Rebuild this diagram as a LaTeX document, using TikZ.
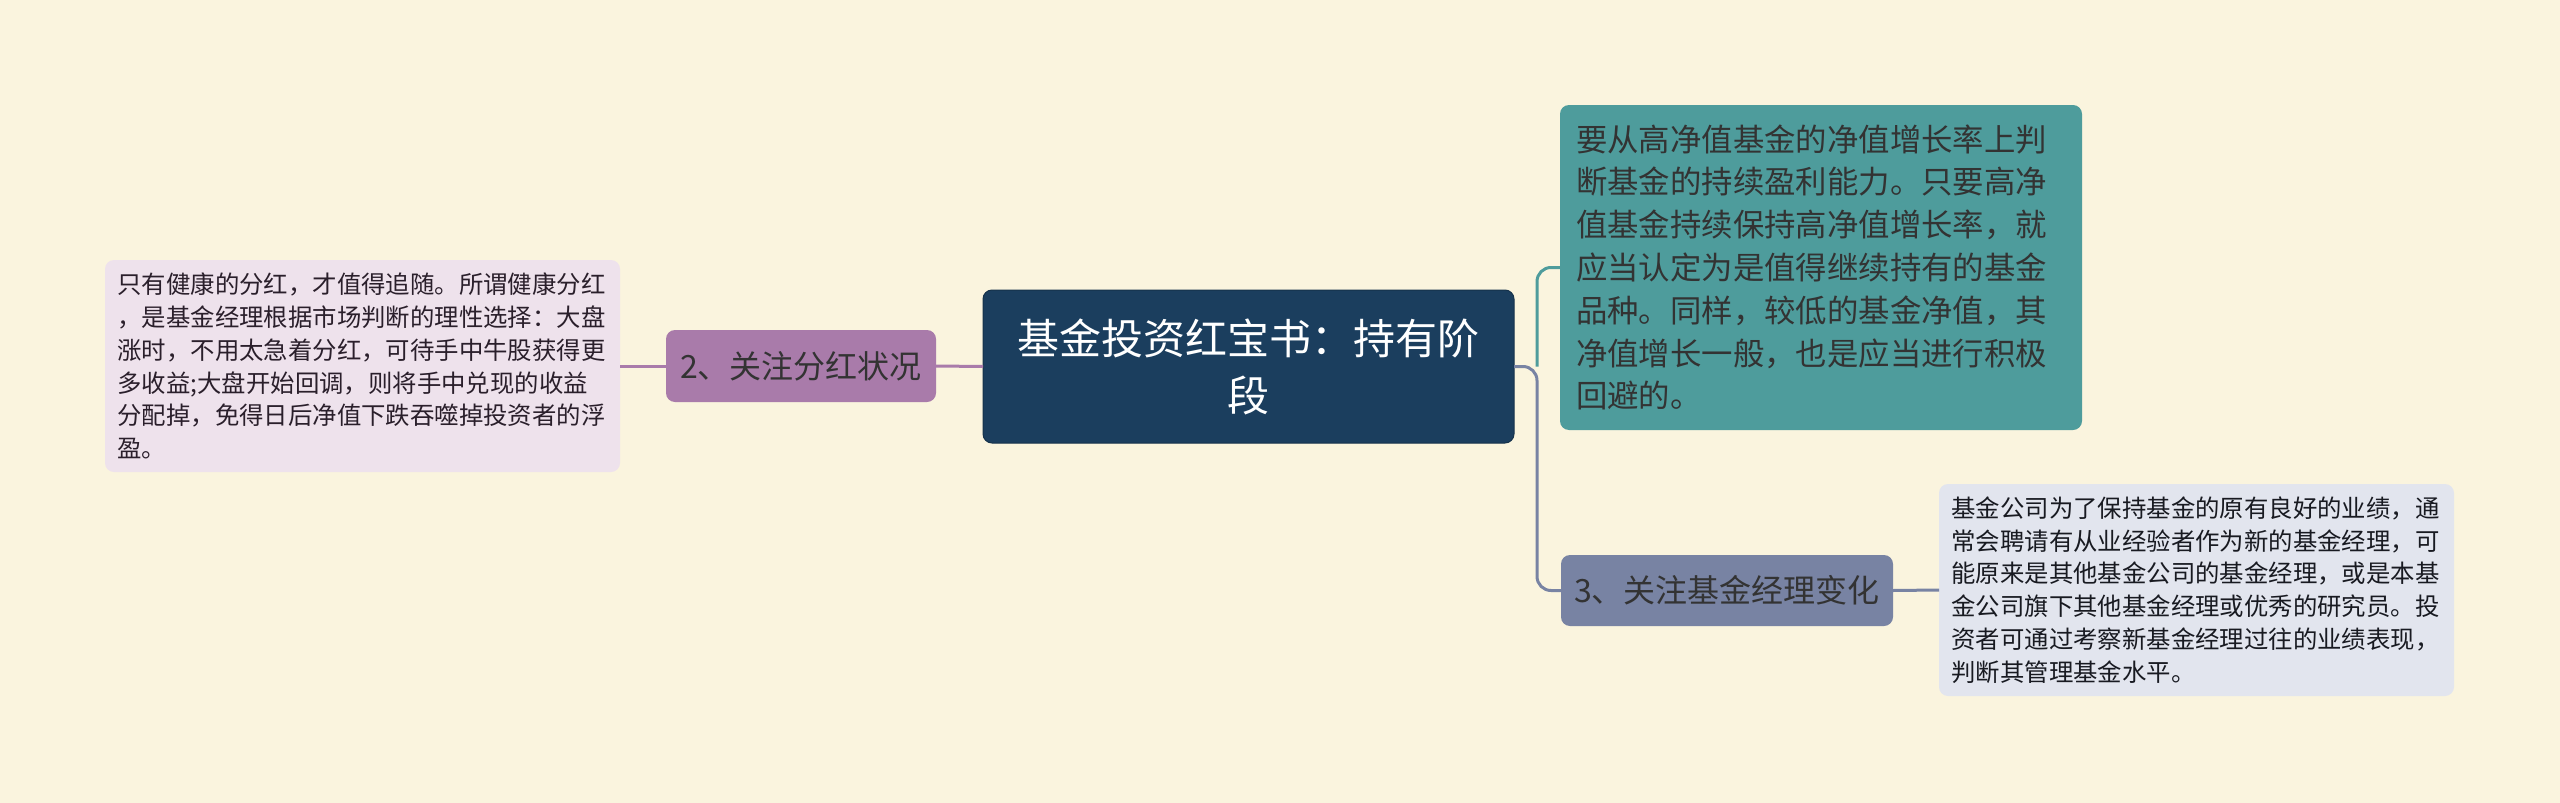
\documentclass[tikz,border=0pt]{standalone}
\usepackage{fontspec}
\setmainfont{Noto Sans CJK SC}
\definecolor{bg}{HTML}{FAF4DE}
\definecolor{rootc}{HTML}{1B3E5E}
\definecolor{purp}{HTML}{A97BAA}
\definecolor{leafL}{HTML}{EEE2EC}
\definecolor{tealc}{HTML}{4E9C9C}
\definecolor{slate}{HTML}{7883A3}
\definecolor{leafR}{HTML}{E2E5EE}
\begin{document}
\begin{tikzpicture}[x=1pt,y=-1pt,
  box/.style={rounded corners=9pt, inner sep=0pt, outer sep=0pt},
  leaftext/.style={align=left, font=\fontsize{24.4pt}{32.8pt}\selectfont},
  conn/.style={line width=3pt, rounded corners=14pt}]
\fill[bg] (0,0) rectangle (2560,803);
\useasboundingbox (0,0) rectangle (2560,803);

% root
\node[box, fill=rootc, draw=rootc!80!black, line width=1pt, text=white, align=center,
  minimum width=531pt, minimum height=153pt,
  font=\fontsize{42pt}{57pt}\selectfont] (root) at (1248.5,366.5)
  {基金投资红宝书：持有阶\\段};

% level 1
\node[box, fill=purp, text=black!80, minimum width=270pt, minimum height=72pt,
  font=\fontsize{32pt}{40pt}\selectfont] (n2) at (801,366) {2、关注分红状况};
\node[box, fill=slate, text=black!80, minimum width=332pt, minimum height=71pt,
  font=\fontsize{32pt}{40pt}\selectfont] (n3) at (1727,590.5) {3、关注基金经理变化};
\node[box, fill=tealc, text=black!80, align=left, text width=490pt, inner xsep=16pt,
  minimum height=325pt, font=\fontsize{31.4pt}{42.8pt}\selectfont] (n1) at (1821,267.5)
  {要从高净值基金的净值增长率上判\\断基金的持续盈利能力。只要高净\\值基金持续保持高净值增长率，就\\应当认定为是值得继续持有的基金\\品种。同样，较低的基金净值，其\\净值增长一般，也是应当进行积极\\回避的。};

% leaves
\node[box, fill=leafL, text=black!75!purp, leaftext, text width=490pt, inner xsep=12.5pt,
  minimum height=212pt] (ll) at (362.5,366)
  {只有健康的分红，才值得追随。所谓健康分红\\，是基金经理根据市场判断的理性选择：大盘\\涨时，不用太急着分红，可待手中牛股获得更\\多收益;大盘开始回调，则将手中兑现的收益\\分配掉，免得日后净值下跌吞噬掉投资者的浮\\盈。};
\node[box, fill=leafR, text=black!80!slate, leaftext, text width=490pt, inner xsep=12.5pt,
  minimum height=212pt] (rl) at (2196.5,590)
  {基金公司为了保持基金的原有良好的业绩，通\\常会聘请有从业经验者作为新的基金经理，可\\能原来是其他基金公司的基金经理，或是本基\\金公司旗下其他基金经理或优秀的研究员。投\\资者可通过考察新基金经理过往的业绩表现，\\判断其管理基金水平。};

% connectors
\coordinate (j) at (1537,366.5);
\draw[conn, purp] (root.west) -- (n2.east);
\draw[conn, purp] (n2.west) -- (ll.east);
\draw[conn, tealc] (j) |- (n1.west);
\draw[conn, slate] (root.east) -- (j) |- (n3.west);
\draw[conn, slate] (n3.east) -- (rl.west);
\end{tikzpicture}
\end{document}
